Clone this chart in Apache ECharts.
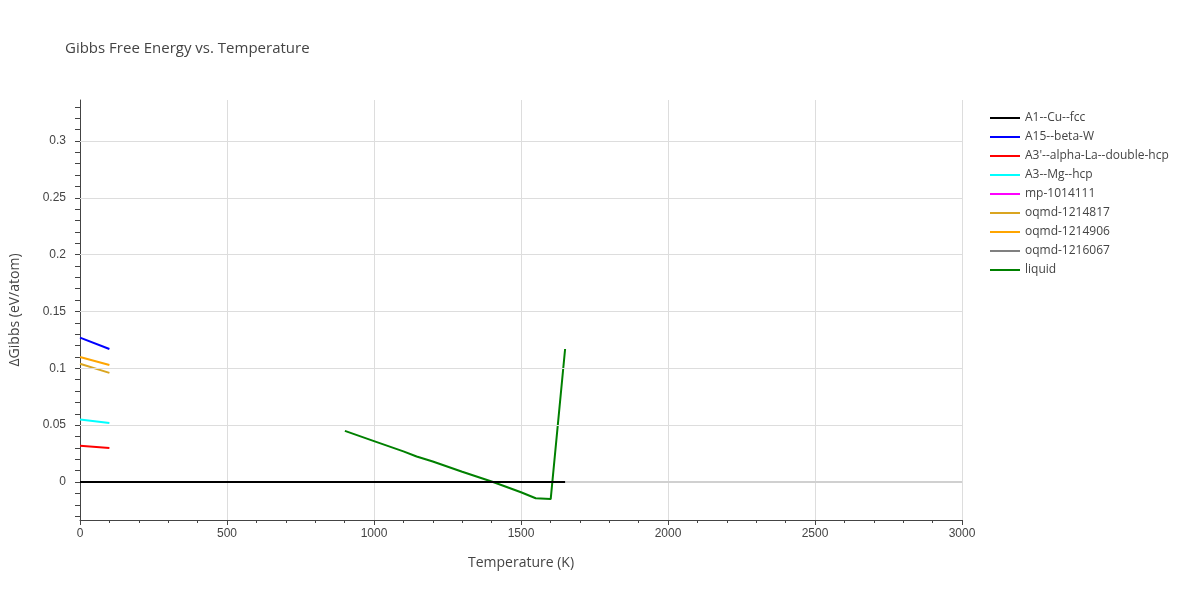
<!DOCTYPE html>
<html><head><meta charset="utf-8">
<script src="https://cdn.jsdelivr.net/npm/echarts@6/dist/echarts.min.js"></script>
<style>body{margin:0}#c{width:1200px;height:600px}</style></head>
<body><div id="c"></div>
<script>
var chart = echarts.init(document.getElementById('c'));

const names = ['A1--Cu--fcc', 'A15--beta-W', "A3'--alpha-La--double-hcp", 'A3--Mg--hcp', 'mp-1014111', 'oqmd-1214817', 'oqmd-1214906', 'oqmd-1216067', 'liquid'];
const colors = ['black', 'blue', 'red', 'cyan', 'magenta', 'goldenrod', 'orange', 'gray', 'green'];

const cuFcc = [[0, 0], [1650, 0]];
const betaW = [[0, 0.127], [100, 0.117]];
const alphaLa = [[0, 0.032], [100, 0.030]];
const mgHcp = [[0, 0.055], [100, 0.052]];
const mp1014111 = [];
const oqmd1214817 = [[0, 0.104], [100, 0.096]];
const oqmd1214906 = [[0, 0.110], [100, 0.103]];
const oqmd1216067 = [];
const liquid = [[901, 0.045], [1000, 0.036], [1100, 0.027], [1145, 0.0225], [1200, 0.018], [1300, 0.009], [1405, 0], [1500, -0.009], [1550, -0.0143], [1601, -0.015], [1650, 0.117]];

const seriesData = [cuFcc, betaW, alphaLa, mgHcp, mp1014111, oqmd1214817, oqmd1214906, oqmd1216067, liquid];
const yLabels = [0, 0.05, 0.1, 0.15, 0.2, 0.25, 0.3];
const yTicks = [];
for (let i = -3; i <= 33; i++) yTicks.push(+(i * 0.01).toFixed(2));

const series = names.map((n, i) => ({
  name: n, type: 'line', data: seriesData[i], showSymbol: false,
  lineStyle: { color: colors[i], width: 2 }, itemStyle: { color: colors[i] },
  z: i === 0 ? 5 : 3
}));
// grid lines and zero line
series.push({
  type: 'line', data: [], silent: true,
  markLine: {
    silent: true, symbol: 'none', label: { show: false },
    data: yLabels.slice(1).map(v => ({ yAxis: v, lineStyle: { color: '#ddd', width: 1, type: 'solid' } }))
      .concat([{ yAxis: 0, lineStyle: { color: '#d0d0d0', width: 2, type: 'solid' } }])
  },
  z: 1
});

chart.setOption({
  animation: false,
  title: { text: 'Gibbs Free Energy vs. Temperature', left: 60, top: 36, textStyle: { fontSize: 15, fontWeight: 'normal', color: '#444', fontFamily: 'Open Sans' } },
  legend: {
    orient: 'vertical', left: 985, top: 106, itemGap: 5, itemWidth: 30, itemHeight: 14, icon: 'path://M0,6h30v2h-30z',
    textStyle: { fontSize: 12, color: '#444', fontFamily: 'Open Sans', lineHeight: 14, padding: [0, 0, 0, 0] },
    itemGap: 5, padding: 5,
    data: names
  },
  grid: { left: 80, right: 238, top: 100, bottom: 80 },
  xAxis: {
    type: 'value', min: 0, max: 3000, interval: 500,
    name: 'Temperature (K)', nameLocation: 'middle', nameGap: 36,
    nameTextStyle: { fontSize: 14, color: '#444', fontFamily: 'Open Sans' },
    axisLine: { onZero: false, lineStyle: { color: '#444' } },
    axisTick: { show: true, length: 5, lineStyle: { color: '#444' } },
    minorTick: { show: true, splitNumber: 5, length: 3, lineStyle: { color: '#444' } },
    axisLabel: { color: '#444', fontSize: 12, formatter: v => String(v) },
    splitLine: { lineStyle: { color: '#ddd' } }
  },
  yAxis: {
    type: 'value', min: -0.0334, max: 0.336,
    name: 'ΔGibbs (eV/atom)', nameLocation: 'middle', nameGap: 58,
    nameTextStyle: { fontSize: 14, color: '#444', fontFamily: 'Open Sans' },
    axisLine: { show: true, lineStyle: { color: '#444' } },
    axisTick: { show: true, length: 5, customValues: yTicks, lineStyle: { color: '#444' } },
    axisLabel: { color: '#444', fontSize: 12, customValues: yLabels, margin: 14 },
    splitLine: { show: false }
  },
  series: series
});
chart.setOption({ legend: { itemGap: 5, itemHeight: 14, textStyle: { lineHeight: 14 } } });
</script></body></html>
